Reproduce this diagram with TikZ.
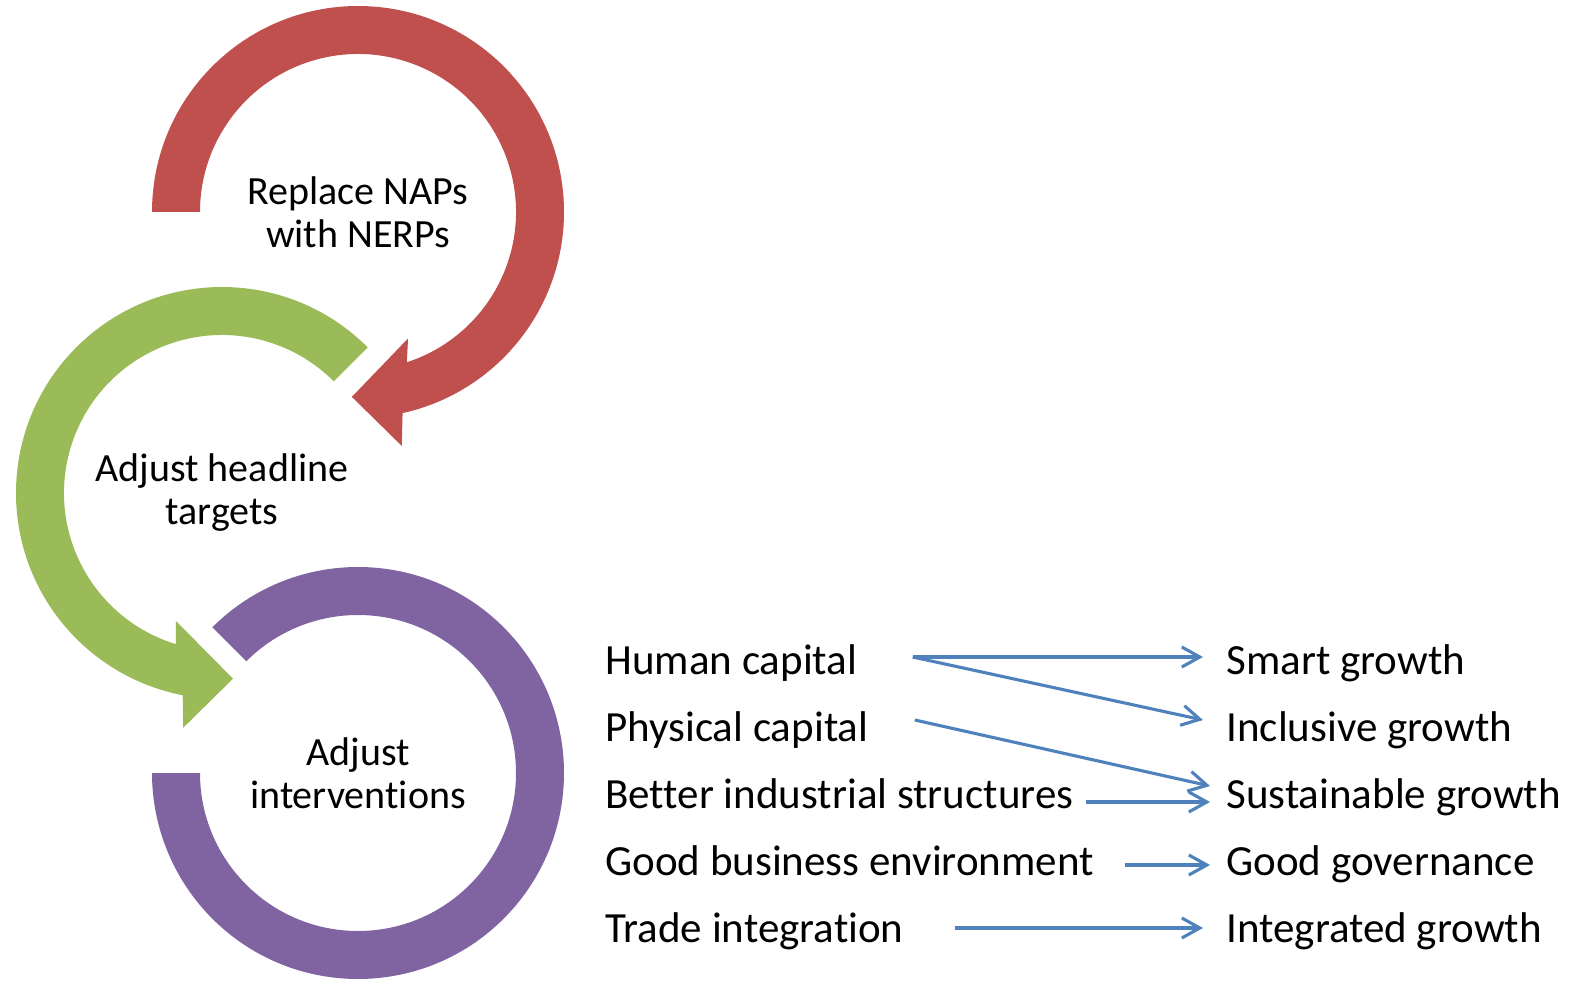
\documentclass[tikz,border=0pt]{standalone}
\usepackage{fontspec}
\setmainfont{Carlito}[Ligatures=NoCommon]
\usepackage{tikz}
\usetikzlibrary{calc, positioning}
\usetikzlibrary{arrows.meta}
\definecolor{ringred}{HTML}{C0504D}
\definecolor{ringgreen}{HTML}{9BBB59}
\definecolor{ringpurple}{HTML}{8064A2}
\definecolor{flowblue}{HTML}{4F81BD}

\begin{document}
\begin{tikzpicture}[x=0.5pt, y=0.5pt,
        ringtext/.style={align=center, inner sep=0pt, font=\fontsize{20}{21.5}\selectfont},
        itemtext/.style={anchor=base west, inner sep=0pt},
        flow/.style={draw=flowblue, line width=1.55pt, -{Straight Barb[length=9pt, width=10pt]}}]
        \tikzstyle{every node}=[font=\fontsize{21.5}{21.5}\selectfont]
            \useasboundingbox (0,0) rectangle (1576,982);
            \coordinate (redc) at (358,770);
            \coordinate (greenc) at (222,489);
            \coordinate (purplec) at (358,209);

            % three rings
            \fill[ringred] ($(redc)+(180:206)$) arc[start angle=180, end angle=-77.5, radius=206]
                -- ($(redc)+(-79.4:238)$) -- ($(redc)+(-91.9:185)$) -- ($(redc)+(-68.4:136)$)
                -- ($(redc)+(-72:158)$) arc[start angle=-72, end angle=180, radius=158] -- cycle;
            \fill[ringgreen] ($(greenc)+(45:206)$) arc[start angle=45, end angle=259, radius=206]
                -- ($(greenc)+(260.6:238)$) -- ($(greenc)+(273.4:186)$) -- ($(greenc)+(250.2:136)$)
                -- ($(greenc)+(253:158)$) arc[start angle=253, end angle=45, radius=158] -- cycle;
            \fill[ringpurple] ($(purplec)+(135:206)$) arc[start angle=135, end angle=-180, radius=206]
                -- ($(purplec)+(-180:158)$) arc[start angle=-180, end angle=135, radius=158] -- cycle;

            \node[ringtext] (replace) at (redc) {Replace NAPs\\with NERPs};
            \node[ringtext] (targets) at (greenc) {Adjust headline\\targets};
            \node[ringtext] (interv) at (purplec) {Adjust\\interventions};

            % drivers and growth
            \node[itemtext] (human) at (605,308) {Human capital};
            \node[itemtext] (physical) at ([yshift=-33.5pt]human.base west) {Physical capital};
            \node[itemtext] (industry) at ([yshift=-33.5pt]physical.base west) {Better industrial structures};
            \node[itemtext] (business) at ([yshift=-33.5pt]industry.base west) {Good business environment};
            \node[itemtext] (trade) at ([yshift=-33.5pt]business.base west) {Trade integration};

            \node[itemtext] (smart) at (1226,308) {Smart growth};
            \node[itemtext] (inclusive) at ([yshift=-33.5pt]smart.base west) {Inclusive growth};
            \node[itemtext] (sustain) at ([yshift=-33.5pt]inclusive.base west) {Sustainable growth};
            \node[itemtext] (govern) at ([yshift=-33.5pt]sustain.base west) {Good governance};
            \node[itemtext] (integr) at ([yshift=-33.5pt]govern.base west) {Integrated growth};

            \draw[flow] ([xshift=27.5pt, yshift=8.5pt]human.base east) -- ([xshift=-11.5pt, yshift=8.5pt]smart.base west);
            \draw[flow] ([xshift=27.5pt, yshift=8.5pt]human.base east) -- ([xshift=-11.5pt, yshift=10.5pt]inclusive.base west);
            \draw[flow] ([xshift=23pt, yshift=10.5pt]physical.base east) -- ([xshift=-8pt, yshift=11pt]sustain.base west);
            \draw[flow] ([xshift=6pt, yshift=3pt]industry.base east) -- ([xshift=-8pt, yshift=3pt]sustain.base west);
            \draw[flow] ([xshift=15.5pt, yshift=5pt]business.base east) -- ([xshift=-8pt, yshift=5pt]govern.base west);
            \draw[flow] ([xshift=25.5pt, yshift=7pt]trade.base east) -- ([xshift=-11.5pt, yshift=7pt]integr.base west);
        \end{tikzpicture}
\end{document}
